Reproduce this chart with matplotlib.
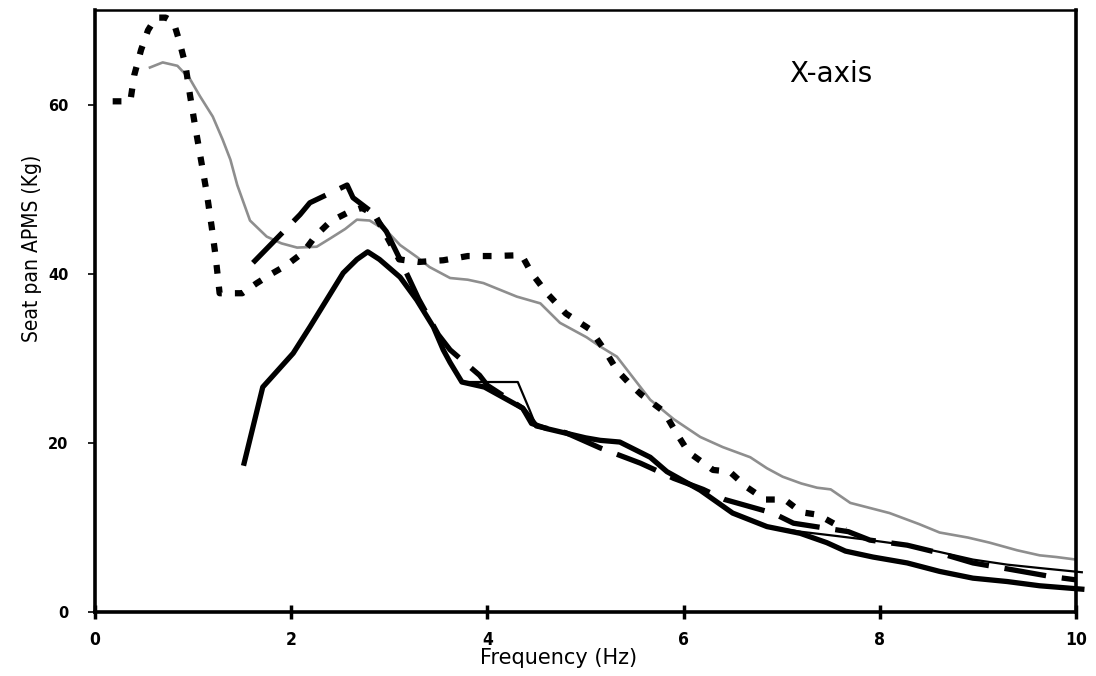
import matplotlib
matplotlib.use("Agg")
import matplotlib.pyplot as plt

# seat pan apparent mass (kg) against frequency (Hz), fore-and-aft direction
model_f = [0.56, 0.69, 0.84, 0.97, 1.07, 1.20, 1.30, 1.38, 1.45, 1.58, 1.75, 1.90, 2.06, 2.26,
           2.40, 2.55, 2.67, 2.80, 2.98, 3.11, 3.28, 3.41, 3.62, 3.80, 3.96, 4.13, 4.30, 4.54,
           4.74, 5.01, 5.15, 5.32, 5.50, 5.66, 5.90, 6.17, 6.40, 6.68, 6.85, 7.01, 7.20, 7.36,
           7.50, 7.70, 7.90, 8.10, 8.40, 8.61, 8.90, 9.12, 9.40, 9.63, 9.80, 10.0]
model_m = [64.4, 65.0, 64.6, 63.0, 61.0, 58.6, 55.9, 53.5, 50.5, 46.3, 44.4, 43.6, 43.1, 43.2,
           44.2, 45.3, 46.4, 46.3, 45.0, 43.4, 42.0, 40.8, 39.5, 39.3, 38.9, 38.1, 37.3, 36.5,
           34.2, 32.5, 31.4, 30.2, 27.5, 25.1, 22.8, 20.7, 19.5, 18.3, 17.0, 16.0, 15.2, 14.7,
           14.5, 12.9, 12.3, 11.7, 10.4, 9.4, 8.8, 8.2, 7.3, 6.7, 6.5, 6.2]

dot_f = [0.18, 0.36, 0.40, 0.47, 0.54, 0.62, 0.72, 0.80, 0.86, 0.92, 0.97, 1.02, 1.08, 1.14,
         1.19, 1.23, 1.27, 1.50, 1.65, 1.80, 1.95, 2.12, 2.25, 2.40, 2.57, 2.72, 2.85, 2.97,
         3.10, 3.30, 3.55, 3.80, 4.05, 4.35, 4.45, 4.60, 4.80, 5.05, 5.20, 5.32, 5.45, 5.57,
         5.80, 5.92, 6.05, 6.30, 6.47, 6.64, 6.83, 7.03, 7.20, 7.37, 7.65]
dot_m = [60.4, 60.4, 63.5, 66.5, 68.8, 70.3, 70.3, 69.8, 67.5, 64.8, 61.0, 57.5, 53.5, 49.5,
         45.5, 42.0, 37.7, 37.7, 38.9, 40.0, 41.0, 42.5, 44.5, 46.2, 47.2, 47.8, 47.0, 44.5,
         41.7, 41.4, 41.6, 42.1, 42.1, 42.2, 40.1, 37.8, 35.3, 33.4, 30.9, 28.6, 27.0, 25.7,
         23.7, 21.3, 18.9, 16.8, 16.6, 14.8, 13.3, 13.3, 11.8, 11.5, 9.7]

dash_f = [1.61, 2.09, 2.19, 2.57, 2.63, 2.80, 2.97, 3.11, 3.30, 3.50, 3.62, 3.92, 4.00, 4.36,
          4.50, 4.80, 5.15, 5.56, 5.90, 6.20, 6.42, 6.91, 7.12, 7.68, 7.90, 8.28, 8.60, 8.95,
          9.30, 9.74, 10.0]
dash_m = [41.3, 47.0, 48.4, 50.5, 49.0, 47.5, 45.0, 41.7, 37.0, 32.8, 31.0, 28.0, 26.8, 24.1,
          22.0, 21.2, 19.4, 17.6, 15.8, 14.5, 13.3, 11.7, 10.5, 9.5, 8.5, 7.9, 7.0, 5.8,
          5.1, 4.2, 3.8]

thick_f = [1.52, 1.71, 1.78, 2.02, 2.19, 2.36, 2.53, 2.67, 2.78, 2.90, 3.11, 3.28, 3.45, 3.55,
           3.62, 3.74, 3.97, 4.36, 4.45, 4.60, 5.00, 5.15, 5.35, 5.66, 5.83, 6.17, 6.50, 6.85,
           7.19, 7.46, 7.65, 7.93, 8.28, 8.61, 8.95, 9.30, 9.63, 10.06]
thick_m = [17.6, 26.6, 27.5, 30.6, 33.7, 36.9, 40.1, 41.7, 42.6, 41.7, 39.6, 36.9, 33.7, 31.0,
           29.5, 27.2, 26.6, 24.1, 22.3, 21.7, 20.6, 20.3, 20.1, 18.3, 16.6, 14.4, 11.7, 10.1,
           9.3, 8.2, 7.2, 6.5, 5.8, 4.8, 4.0, 3.6, 3.1, 2.7]

thin_f = [2.78, 2.90, 3.11, 3.28, 3.45, 3.62, 3.74, 4.31, 4.43, 4.50, 4.81, 5.00, 5.35, 5.66,
          5.83, 6.17, 6.50, 6.85, 7.19, 7.55, 7.90, 8.28, 8.61, 8.95, 9.30, 9.63, 10.06]
thin_m = [42.6, 41.7, 39.6, 36.9, 33.7, 29.5, 27.2, 27.2, 23.9, 21.9, 21.2, 20.6, 20.1, 18.3,
          16.6, 14.4, 11.7, 10.1, 9.5, 9.0, 8.5, 7.9, 7.1, 6.2, 5.6, 5.2, 4.7]

x_ticks = [0, 2, 4, 6, 8, 10]
y_ticks = [0, 20, 40, 60]

narrow = ['Liberation Sans Narrow', 'DejaVu Sans']

fig = plt.figure(figsize=(10.96, 6.76), dpi=100)
ax = fig.add_axes([0.0867, 0.0947, 0.895, 0.8905])

ax.plot(model_f, model_m, color='#8e8e8e', lw=1.9)
ax.plot(dot_f, dot_m, color='black', lw=4.5, dashes=(1.4, 2.1))
ax.plot(dash_f, dash_m, color='black', lw=3.8, dashes=(8, 3))
ax.plot(thick_f, thick_m, color='black', lw=3.8, clip_on=False)
ax.plot(thin_f, thin_m, color='black', lw=1.6, clip_on=False)

ax.set_xlim(0, 10)
ax.set_ylim(0, 71.2)

for side in ['left', 'bottom', 'right', 'top']:
    ax.spines[side].set_linewidth(2.6)
ax.spines['top'].set_linewidth(1.8)

ax.set_xticks(x_ticks)
ax.set_yticks(y_ticks)
ax.set_xticklabels([str(v) for v in x_ticks], family=narrow, fontstretch='condensed',
                   fontsize=12.5, fontweight='bold')
ax.set_yticklabels([str(v) for v in y_ticks], family='DejaVu Sans', fontsize=10.5, fontweight='bold')
ax.tick_params(axis='x', direction='inout', length=10, width=2.5, pad=9)
ax.tick_params(axis='y', direction='out', length=5, width=1.2, pad=14)

fig.text(0.51, 0.026, 'Frequency (Hz)', ha='center', va='center', fontsize=15, family='DejaVu Sans')
fig.text(0.029, 0.632, 'Seat pan APMS (Kg)', ha='center', va='center', rotation=90,
         fontsize=15, family=narrow, fontstretch='condensed')
fig.text(0.758, 0.8905, 'X-axis', ha='center', va='center', fontsize=20, family='DejaVu Sans')

fig.savefig('out.png', dpi=100)
